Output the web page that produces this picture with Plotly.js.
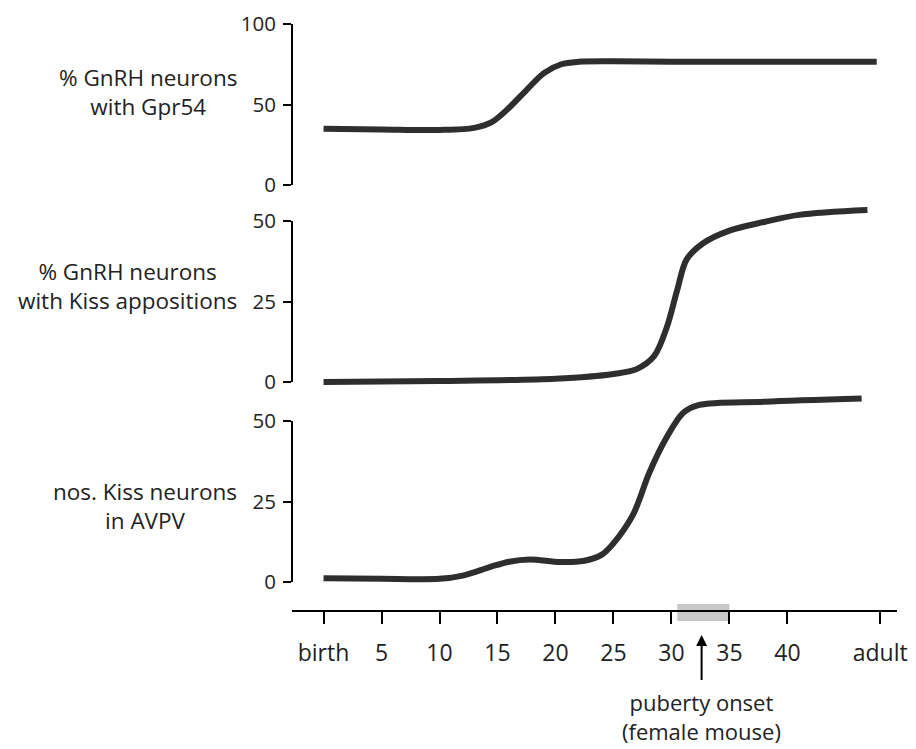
<!DOCTYPE html>
<html>
<head>
<meta charset="utf-8">
<script src="https://cdn.plot.ly/plotly-3.0.1.min.js"></script>
<style>html,body{margin:0;padding:0;background:#fff;}#chart{width:916px;height:749px;}</style>
</head>
<body>
<div id="chart"></div>
<script>
// ---- data ----
var tickDays   = [0, 5, 10, 15, 20, 25, 30, 35, 40, 48];
var tickLabels = ['birth', '5', '10', '15', '20', '25', '30', '35', '40', 'adult'];

var gprDays = [0, 5, 10, 13, 14.5, 16, 17.5, 19, 20.5, 22, 25, 30, 35, 40, 47.7];
var gprVals = [35, 34.5, 34.2, 35.5, 39, 48, 59, 69.5, 75, 76.5, 76.8, 76.5, 76.5, 76.5, 76.5];

var kissDays = [0, 10, 20, 25, 27, 28.5, 29.6, 30.5, 31.3, 32.7, 35, 38, 41, 46.9];
var kissVals = [0, 0.3, 1, 2.5, 4, 8, 17, 28.6, 38, 43, 47, 49.7, 51.9, 53.4];

var avpvDays = [0, 5, 10, 12, 14.4, 16, 17.8, 20.4, 22.5, 24, 25, 26.7, 28.1, 29.6, 31, 32.4, 38, 46.4];
var avpvVals = [1.2, 1, 1, 2, 4.7, 6.3, 7, 6.2, 6.6, 8.5, 12, 21, 34, 45, 52.5, 55, 56, 57];

var panelLabels = ['% GnRH neurons<br>with Gpr54',
                   '% GnRH neurons<br>with Kiss appositions',
                   'nos. Kiss neurons<br>in AVPV'];
var topTicks = [0, 50, 100];
var lowTicks = [0, 25, 50];
var pubertyWindow = [30.5, 35];
var pubertyDay = 32.6;

// ---- layout helpers (pixel geometry) ----
var W = 916, H = 749;
var L = 292, R = 897, T = 10, B = 611;
var PH = B - T, PW = R - L;
function dom(pxBottom, pxTop) { return [(B - pxBottom) / PH, (B - pxTop) / PH]; }
function py(p) { return (B - p) / PH; }
function px(p) { return (p - L) / PW; }
// axis value v0 at pixel p0, v1 at p1; range [lo, hi]
function geo(v0, p0, v1, p1, lo, hi) {
  var ppu = (p0 - p1) / (v1 - v0);
  return { range: [lo, hi], domain: dom(p0 + (v0 - lo) * ppu, p1 - (hi - v1) * ppu) };
}
var g1 = geo(0, 185, 100, 24, -6, 106);
var g2 = geo(0, 382, 50, 221, -3, 58);
var g3 = geo(0, 582, 50, 421, -3, 60);

var FONT = 'Open Sans, sans-serif';
var ink = '#000';
var txt = '#222';
var lineCol = '#2e2e2e';

function trace(x, y, ya) {
  return { x: x, y: y, yaxis: ya, xaxis: 'x', type: 'scatter', mode: 'lines',
    line: { color: lineCol, width: 6, shape: 'spline', smoothing: 0.9 },
    hoverinfo: 'skip', showlegend: false, cliponaxis: false };
}
var data = [trace(gprDays, gprVals, 'y'), trace(kissDays, kissVals, 'y2'), trace(avpvDays, avpvVals, 'y3')];

function yax(g, ticks) {
  return { domain: g.domain, range: g.range, anchor: 'x', showline: false, showgrid: false, zeroline: false,
    tickmode: 'array', tickvals: ticks, ticks: 'outside', ticklen: 8, tickwidth: 2, tickcolor: ink,
    tickfont: { family: FONT, size: 20.5, color: txt }, ticklabelstandoff: 3, fixedrange: true };
}

var layout = {
  width: W, height: H,
  margin: { l: L, r: W - R, t: T, b: H - B, pad: 0 },
  paper_bgcolor: '#fff', plot_bgcolor: 'rgba(0,0,0,0)',
  showlegend: false,
  xaxis: { range: [-2.72, 49.45], anchor: 'free', position: 0, showgrid: false, zeroline: false,
    showline: true, linecolor: ink, linewidth: 2,
    tickmode: 'array', tickvals: tickDays, ticktext: tickLabels,
    ticks: 'outside', ticklen: 12, tickwidth: 2, tickcolor: ink,
    tickfont: { family: FONT, size: 23, color: txt }, ticklabelstandoff: 9, fixedrange: true },
  yaxis: yax(g1, topTicks),
  yaxis2: yax(g2, lowTicks),
  yaxis3: yax(g3, lowTicks),
  shapes: [
    { type: 'rect', layer: 'below', xref: 'x', yref: 'paper', x0: pubertyWindow[0], x1: pubertyWindow[1],
      y0: py(621), y1: py(604), fillcolor: '#c8c8c8', line: { width: 0 } },
    { type: 'line', xref: 'paper', yref: 'y', x0: 0, x1: 0, y0: 0, y1: 100, line: { color: ink, width: 2 } },
    { type: 'line', xref: 'paper', yref: 'y2', x0: 0, x1: 0, y0: 0, y1: 50, line: { color: ink, width: 2 } },
    { type: 'line', xref: 'paper', yref: 'y3', x0: 0, x1: 0, y0: 0, y1: 50, line: { color: ink, width: 2 } }
  ],
  annotations: [
    { xref: 'paper', yref: 'paper', x: px(239), y: py(92), xanchor: 'right', yanchor: 'middle', align: 'center',
      text: panelLabels[0], showarrow: false, font: { family: FONT, size: 22.5, color: txt } },
    { xref: 'paper', yref: 'paper', x: px(239), y: py(286), xanchor: 'right', yanchor: 'middle', align: 'center',
      text: panelLabels[1], showarrow: false, font: { family: FONT, size: 22.5, color: txt } },
    { xref: 'paper', yref: 'paper', x: px(239), y: py(506), xanchor: 'right', yanchor: 'middle', align: 'center',
      text: panelLabels[2], showarrow: false, font: { family: FONT, size: 22.5, color: txt } },
    { xref: 'x', yref: 'paper', x: pubertyDay, y: py(635), ax: 0, ay: 81, axref: 'pixel', ayref: 'pixel',
      text: 'puberty onset<br>(female mouse)', showarrow: true, arrowhead: 2, arrowsize: 1.1, arrowwidth: 2,
      arrowcolor: ink, borderpad: 6, font: { family: FONT, size: 22, color: txt } }
  ]
};

Plotly.newPlot('chart', data, layout, { displayModeBar: false, staticPlot: true });
</script>
</body>
</html>
